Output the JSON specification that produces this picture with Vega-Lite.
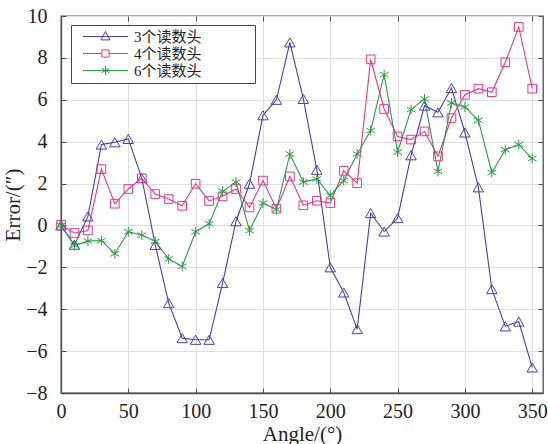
{
  "$schema": "https://vega.github.io/schema/vega-lite/v6.json",
  "width": 482,
  "height": 377,
  "autosize": "none",
  "padding": {"left": 61, "top": 16, "right": 5, "bottom": 51},
  "background": "white",
  "config": {
    "view": {"stroke": "#4d4d4d", "strokeWidth": 1.3},
    "font": "Liberation Serif",
    "axis": {
      "labelFont": "Liberation Serif",
      "labelFontSize": 20,
      "labelColor": "#222222",
      "labelFlush": false,
      "titleFont": "Liberation Serif",
      "titleFontSize": 21,
      "titleFontWeight": "normal",
      "titleColor": "#222222",
      "domainColor": "#4d4d4d",
      "domainWidth": 1.3,
      "tickColor": "#4d4d4d",
      "tickSize": -5,
      "gridColor": "#dedede",
      "gridWidth": 1
    }
  },
  "data": {
    "values": [
      {"a": 0, "3个读数头": 0, "4个读数头": 0.03, "6个读数头": 0},
      {"a": 10, "3个读数头": -0.92, "4个读数头": -0.36, "6个读数头": -0.96},
      {"a": 20, "3个读数头": 0.43, "4个读数头": -0.24, "6个读数头": -0.75},
      {"a": 30, "3个读数头": 3.86, "4个读数头": 2.69, "6个读数头": -0.72},
      {"a": 40, "3个读数头": 3.97, "4个读数头": 1.04, "6个读数头": -1.35},
      {"a": 50, "3个读数头": 4.13, "4个读数头": 1.74, "6个读数头": -0.3},
      {"a": 60, "3个读数头": 2.26, "4个读数头": 2.25, "6个读数头": -0.46},
      {"a": 70, "3个读数头": -0.93, "4个读数头": 1.5, "6个读数头": -0.76},
      {"a": 80, "3个读数头": -3.71, "4个读数头": 1.26, "6个读数头": -1.6},
      {"a": 90, "3个读数头": -5.38, "4个读数头": 0.94, "6个读数头": -1.96},
      {"a": 100, "3个读数头": -5.46, "4个读数头": 1.99, "6个读数头": -0.3},
      {"a": 110, "3个读数头": -5.46, "4个读数头": 1.17, "6个读数头": 0.08},
      {"a": 120, "3个读数头": -2.75, "4个读数头": 1.39, "6个读数头": 1.63},
      {"a": 130, "3个读数头": 0.2, "4个读数头": 1.74, "6个读数头": 2.07},
      {"a": 140, "3个读数头": 1.99, "4个读数头": 0.86, "6个读数头": -0.25},
      {"a": 150, "3个读数头": 5.26, "4个读数头": 2.14, "6个读数头": 1.07},
      {"a": 160, "3个读数头": 6.0, "4个读数头": 0.8, "6个读数头": 0.76},
      {"a": 170, "3个读数头": 8.74, "4个读数头": 2.34, "6个读数头": 3.41},
      {"a": 180, "3个读数头": 6.04, "4个读数头": 0.96, "6个读数头": 2.07},
      {"a": 190, "3个读数头": 2.66, "4个读数头": 1.18, "6个读数头": 2.22},
      {"a": 200, "3个读数头": -2.0, "4个读数头": 1.07, "6个读数头": 1.43},
      {"a": 210, "3个读数头": -3.2, "4个读数头": 2.61, "6个读数头": 2.14},
      {"a": 220, "3个读数头": -4.95, "4个读数头": 2.02, "6个读数头": 3.41},
      {"a": 230, "3个读数头": 0.59, "4个读数头": 7.93, "6个读数头": 4.53},
      {"a": 240, "3个读数头": -0.29, "4个读数头": 5.56, "6个读数头": 7.2},
      {"a": 250, "3个读数头": 0.35, "4个读数头": 4.25, "6个读数头": 3.5},
      {"a": 260, "3个读数头": 3.35, "4个读数头": 4.1, "6个读数头": 5.53},
      {"a": 270, "3个读数头": 5.72, "4个读数头": 4.49, "6个读数头": 6.04},
      {"a": 280, "3个读数头": 5.4, "4个读数头": 3.3, "6个读数头": 2.58},
      {"a": 290, "3个读数头": 6.56, "4个读数头": 5.13, "6个读数头": 5.85},
      {"a": 300, "3个读数头": 4.44, "4个读数头": 6.24, "6个读数头": 5.66},
      {"a": 310, "3个读数头": 1.82, "4个读数头": 6.53, "6个读数头": 5.02},
      {"a": 320, "3个读数头": -3.04, "4个读数头": 6.36, "6个读数头": 2.53},
      {"a": 330, "3个读数头": -4.82, "4个读数头": 7.79, "6个读数头": 3.62},
      {"a": 340, "3个读数头": -4.59, "4个读数头": 9.48, "6个读数头": 3.86},
      {"a": 350, "3个读数头": -6.78, "4个读数头": 6.53, "6个读数头": 3.19}
    ]
  },
  "transform": [
    {"fold": ["3个读数头", "4个读数头", "6个读数头"], "as": ["s", "v"]}
  ],
  "encoding": {
    "color": {
      "field": "s", "type": "nominal",
      "scale": {"domain": ["3个读数头", "4个读数头", "6个读数头"], "range": ["#4a3fa5", "#e0398c", "#2e9a45"]},
      "legend": {
        "orient": "none",
        "legendX": 10,
        "legendY": 9,
        "title": "..............",
        "titleOrient": "right",
        "titleColor": "white",
        "titleFontSize": 14,
        "titlePadding": 0,
        "strokeColor": "#444444",
        "fillColor": "white",
        "padding": 4,
        "symbolSize": 81,
        "symbolStrokeWidth": 1,
        "symbolOffset": 23,
        "labelOffset": 21,
        "labelFont": "Liberation Serif, Noto Sans CJK SC",
        "labelFontSize": 15,
        "labelColor": "#222222",
        "rowPadding": 1,
        "encode": {
          "symbols": {
            "update": {
              "shape": {"signal": "datum.value === '3个读数头' ? 'M-5,0L5,0M0,-1.1L1,0.75L-1,0.75Z' : (datum.value === '4个读数头' ? 'M-5,0L-0.8,0M0.8,0L5,0M-0.8,-0.8L0.8,-0.8L0.8,0.8L-0.8,0.8Z' : 'M-5,0L5,0M0,-1L0,1M-0.87,-0.5L0.87,0.5M-0.87,0.5L0.87,-0.5')"},
              "fill": {"value": "transparent"},
              "strokeWidth": {"value": 1}
            }
          }
        }
      }
    }
  },
  "layer": [
    {
      "mark": {"type": "line", "strokeWidth": 1.1},
      "encoding": {
        "x": {
          "field": "a", "type": "quantitative",
          "scale": {"domain": [0, 358], "nice": false, "zero": false},
          "axis": {"orient": "bottom", "values": [0, 50, 100, 150, 200, 250, 300, 350], "grid": true, "title": "Angle/(°)", "labelPadding": 13, "titlePadding": 2}
        },
        "y": {
          "field": "v", "type": "quantitative",
          "scale": {"domain": [-8, 10], "nice": false},
          "axis": {"orient": "left", "values": [-8, -6, -4, -2, 0, 2, 4, 6, 8, 10], "grid": true, "title": "Error/(″)", "labelPadding": 19, "titlePadding": 2}
        }
      }
    },
    {
      "transform": [{"filter": "datum.s === '3个读数头'"}],
      "mark": {"type": "point", "filled": false, "strokeWidth": 1, "opacity": 1, "shape": "triangle-up", "size": 110},
      "encoding": {
        "x": {
          "field": "a", "type": "quantitative",
          "axis": {"orient": "top", "values": [0, 50, 100, 150, 200, 250, 300, 350], "labels": false, "grid": false, "title": null, "domain": false}
        },
        "y": {
          "field": "v", "type": "quantitative",
          "axis": {"orient": "right", "values": [-8, -6, -4, -2, 0, 2, 4, 6, 8, 10], "labels": false, "grid": false, "title": null, "domain": false}
        }
      }
    },
    {
      "transform": [{"filter": "datum.s === '4个读数头'"}],
      "mark": {"type": "point", "filled": false, "strokeWidth": 1, "opacity": 1, "shape": "square", "size": 75},
      "encoding": {
        "x": {"field": "a", "type": "quantitative", "axis": null},
        "y": {"field": "v", "type": "quantitative", "axis": null}
      }
    },
    {
      "transform": [{"filter": "datum.s === '6个读数头'"}],
      "mark": {"type": "point", "filled": false, "strokeWidth": 1, "opacity": 1, "shape": "M0,-1L0,1M-0.87,-0.5L0.87,0.5M-0.87,0.5L0.87,-0.5", "size": 100},
      "encoding": {
        "x": {"field": "a", "type": "quantitative", "axis": null},
        "y": {"field": "v", "type": "quantitative", "axis": null}
      }
    }
  ],
  "resolve": {"axis": {"x": "independent", "y": "independent"}}
}
